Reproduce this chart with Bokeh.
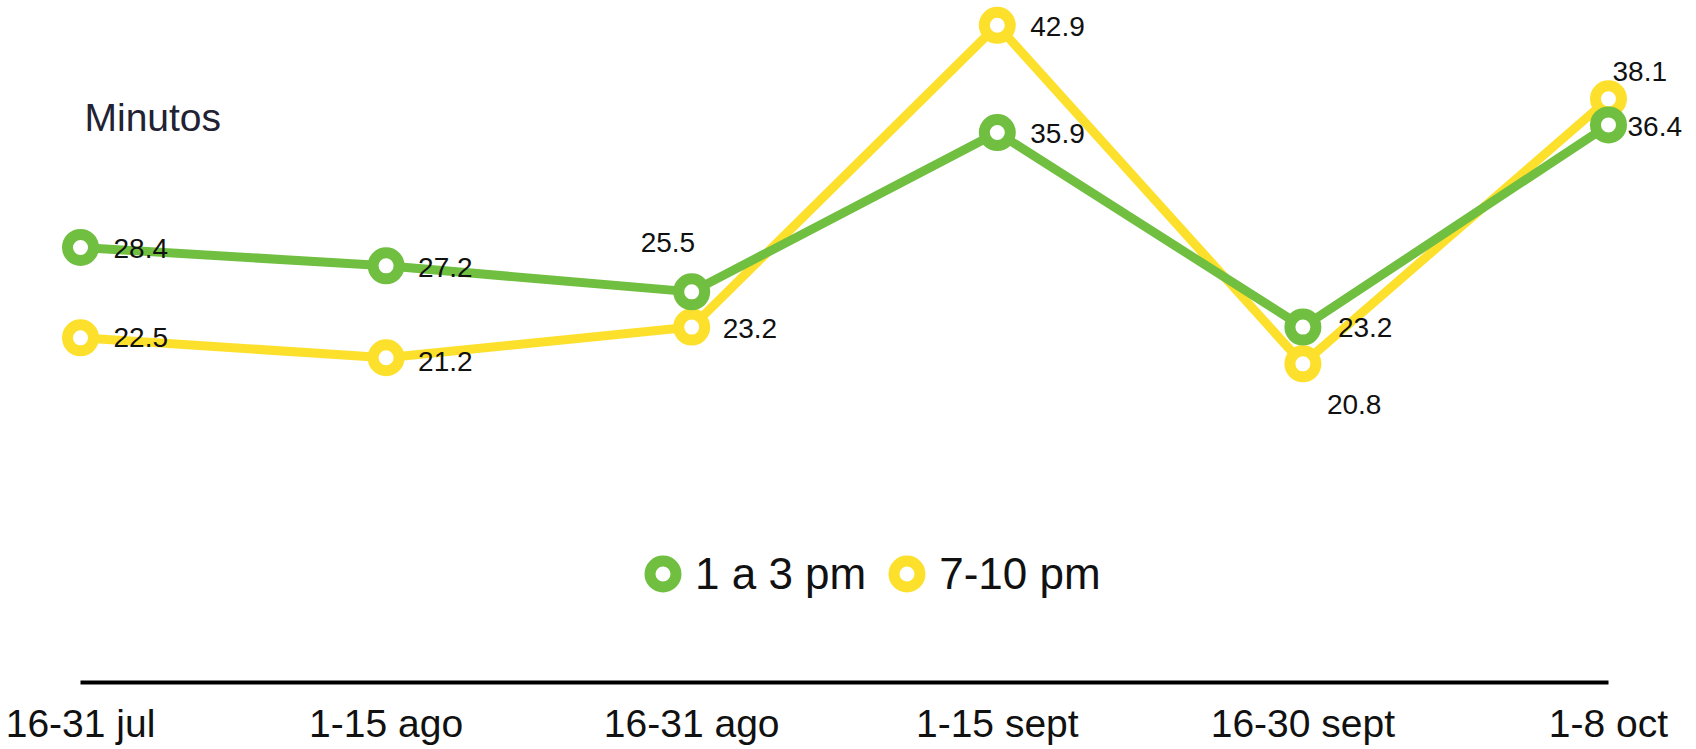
from bokeh.plotting import figure
from bokeh.models import ColumnDataSource, Range1d, FixedTicker, Legend, LegendItem, Label
from bokeh.core.properties import value
from bokeh.embed import file_html
from bokeh.resources import INLINE

# ---- data ----
periods = ["16-31 jul", "1-15 ago", "16-31 ago", "1-15 sept", "16-30 sept", "1-8 oct"]
afternoon = [28.4, 27.2, 25.5, 35.9, 23.2, 36.4]   # 1 a 3 pm
evening = [22.5, 21.2, 23.2, 42.9, 20.8, 38.1]     # 7-10 pm
series_names = ["1 a 3 pm", "7-10 pm"]
y_title = "Minutos"

# ---- label placement (screen px, from each point) ----
afternoon_dx = [33, 32, -51, 33, 35, 19]
afternoon_dy = [1, 2, -49, 1, 0, 2]
evening_dx = [33, 32, 31, 33, 24, 4]
evening_dy = [0, 4, 1, 1, 41, -27]

GREEN = "#70BF41"
YELLOW = "#FDE02B"
FONT = "Liberation Sans"
TXT = "#111111"

xs = list(range(len(periods)))

src_g = ColumnDataSource(dict(x=xs, y=afternoon, lab=[f"{v:.1f}" for v in afternoon],
                              dx=afternoon_dx, dy=afternoon_dy))
src_y = ColumnDataSource(dict(x=xs, y=evening, lab=[f"{v:.1f}" for v in evening],
                              dx=evening_dx, dy=evening_dy))

p = figure(frame_width=1696, frame_height=682,
           min_border_left=0, min_border_right=0, min_border_top=0, min_border_bottom=0,
           x_range=Range1d(-0.2618, 5.288), y_range=Range1d(0, 44.52),
           output_backend="svg", toolbar_location=None, y_axis_location=None)
p.outline_line_color = None
p.xgrid.grid_line_color = None
p.ygrid.grid_line_color = None
p.background_fill_color = "white"
p.border_fill_color = "white"

ax = p.xaxis[0]
ax.ticker = FixedTicker(ticks=xs)
ax.bounds = (0, len(periods) - 1)
ax.major_label_overrides = {i: lab for i, lab in enumerate(periods)}
ax.axis_line_width = 4
ax.axis_line_color = "black"
ax.major_tick_line_color = None
ax.minor_tick_line_color = None
ax.major_tick_out = 0
ax.major_tick_in = 0
ax.major_label_standoff = 19
ax.major_label_text_font = FONT
ax.major_label_text_font_size = "39px"
ax.major_label_text_color = TXT

# yellow first (green drawn on top)
p.line("x", "y", source=src_y, line_color=YELLOW, line_width=9, line_join="round")
r_y = p.scatter("x", "y", source=src_y, marker="circle", size=26, line_width=11,
                line_color=YELLOW, fill_color="white")
p.line("x", "y", source=src_g, line_color=GREEN, line_width=9, line_join="round")
r_g = p.scatter("x", "y", source=src_g, marker="circle", size=26, line_width=11,
                line_color=GREEN, fill_color="white")

for src in (src_g, src_y):
    p.text("x", "y", text="lab", source=src, x_offset="dx", y_offset="dy",
           text_font=value(FONT), text_font_size="28px", text_color=TXT,
           text_align="left", text_baseline="middle")

p.add_layout(Label(x=0, y=36.88, x_offset=4, text=y_title, text_font=FONT,
                   text_font_size="39px", text_color="#222233",
                   text_baseline="alphabetic", text_align="left"))

legend = Legend(items=[LegendItem(label=series_names[0], renderers=[r_g]),
                       LegendItem(label=series_names[1], renderers=[r_y])],
                orientation="horizontal", location=(630, 76),
                glyph_width=65, glyph_height=65, label_standoff=0, spacing=8,
                padding=0, margin=0, border_line_color=None, background_fill_alpha=0,
                label_text_font=FONT, label_text_font_size="44px", label_text_color=TXT)
p.add_layout(legend)

open("out.html", "w").write(file_html(p, INLINE))
